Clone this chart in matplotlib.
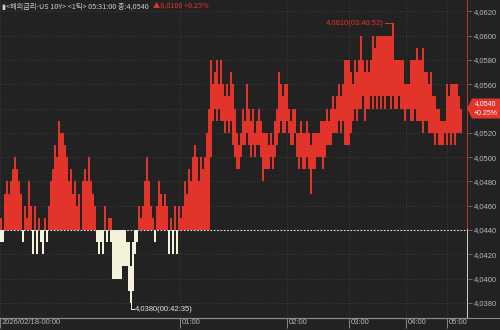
import matplotlib
matplotlib.use("Agg")
import matplotlib.pyplot as plt
import matplotlib.transforms as mtrans
from matplotlib.patches import Polygon
import numpy as np

# ---------------- data ----------------
baseline = 4.0440          # previous close
last_price = 4.0540
# per-column high / low of the tick prices
highs = [
    4.0450, 4.0440, 4.0470, 4.0480, 4.0470, 4.0480, 4.0490, 4.0500, 4.0490, 4.0480,
    4.0470, 4.0440, 4.0460, 4.0450, 4.0480, 4.0460, 4.0440, 4.0460, 4.0440, 4.0450,
    4.0440, 4.0440, 4.0450, 4.0440, 4.0460, 4.0480, 4.0490, 4.0510, 4.0500, 4.0530,
    4.0520, 4.0520, 4.0510, 4.0500, 4.0480, 4.0490, 4.0470, 4.0480, 4.0460, 4.0470,
    4.0440, 4.0480, 4.0490, 4.0480, 4.0500, 4.0480, 4.0470, 4.0460, 4.0440, 4.0440,
    4.0440, 4.0440, 4.0460, 4.0440, 4.0450, 4.0450, 4.0440, 4.0440, 4.0440, 4.0440,
    4.0440, 4.0440, 4.0440, 4.0430, 4.0430, 4.0410, 4.0430, 4.0440, 4.0440, 4.0460,
    4.0450, 4.0460, 4.0480, 4.0500, 4.0480, 4.0460, 4.0450, 4.0440, 4.0460, 4.0480,
    4.0470, 4.0460, 4.0470, 4.0460, 4.0440, 4.0450, 4.0440, 4.0460, 4.0440, 4.0460,
    4.0450, 4.0460, 4.0480, 4.0470, 4.0490, 4.0480, 4.0500, 4.0510, 4.0500, 4.0480,
    4.0500, 4.0490, 4.0500, 4.0520, 4.0540, 4.0580, 4.0560, 4.0570, 4.0580, 4.0560,
    4.0580, 4.0560, 4.0550, 4.0560, 4.0550, 4.0570, 4.0560, 4.0540, 4.0520, 4.0510,
    4.0520, 4.0540, 4.0530, 4.0560, 4.0540, 4.0530, 4.0540, 4.0520, 4.0530, 4.0540,
    4.0530, 4.0520, 4.0520, 4.0520, 4.0510, 4.0520, 4.0510, 4.0530, 4.0540, 4.0570,
    4.0560, 4.0550, 4.0560, 4.0560, 4.0540, 4.0530, 4.0540, 4.0540, 4.0520, 4.0520,
    4.0530, 4.0520, 4.0520, 4.0530, 4.0520, 4.0510, 4.0520, 4.0520, 4.0520, 4.0520,
    4.0530, 4.0530, 4.0530, 4.0540, 4.0530, 4.0540, 4.0550, 4.0540, 4.0550, 4.0560,
    4.0550, 4.0560, 4.0580, 4.0580, 4.0580, 4.0570, 4.0560, 4.0580, 4.0570, 4.0580,
    4.0600, 4.0580, 4.0570, 4.0580, 4.0570, 4.0580, 4.0600, 4.0590, 4.0600, 4.0600,
    4.0600, 4.0600, 4.0600, 4.0600, 4.0600, 4.0600, 4.0610, 4.0580, 4.0580, 4.0580,
    4.0580, 4.0580, 4.0560, 4.0560, 4.0560, 4.0580, 4.0580, 4.0580, 4.0590, 4.0580,
    4.0580, 4.0590, 4.0570, 4.0570, 4.0560, 4.0570, 4.0550, 4.0550, 4.0540, 4.0540,
    4.0530, 4.0530, 4.0530, 4.0560, 4.0550, 4.0560, 4.0560, 4.0560, 4.0560, 4.0550,
    4.0540,
]
lows = [
    4.0430, 4.0430, 4.0440, 4.0440, 4.0440, 4.0440, 4.0440, 4.0440, 4.0440, 4.0440,
    4.0440, 4.0430, 4.0440, 4.0440, 4.0440, 4.0440, 4.0420, 4.0440, 4.0420, 4.0440,
    4.0430, 4.0420, 4.0440, 4.0430, 4.0440, 4.0440, 4.0440, 4.0440, 4.0440, 4.0440,
    4.0440, 4.0440, 4.0440, 4.0440, 4.0440, 4.0440, 4.0440, 4.0440, 4.0440, 4.0440,
    4.0440, 4.0440, 4.0440, 4.0440, 4.0440, 4.0440, 4.0440, 4.0440, 4.0430, 4.0420,
    4.0430, 4.0420, 4.0440, 4.0430, 4.0440, 4.0430, 4.0400, 4.0400, 4.0400, 4.0400,
    4.0400, 4.0410, 4.0410, 4.0410, 4.0390, 4.0380, 4.0390, 4.0420, 4.0430, 4.0440,
    4.0440, 4.0440, 4.0440, 4.0440, 4.0440, 4.0440, 4.0440, 4.0430, 4.0440, 4.0440,
    4.0440, 4.0440, 4.0440, 4.0440, 4.0420, 4.0440, 4.0420, 4.0440, 4.0420, 4.0440,
    4.0440, 4.0440, 4.0440, 4.0440, 4.0440, 4.0440, 4.0440, 4.0440, 4.0440, 4.0440,
    4.0440, 4.0440, 4.0440, 4.0440, 4.0440, 4.0500, 4.0530, 4.0540, 4.0530, 4.0540,
    4.0530, 4.0530, 4.0520, 4.0530, 4.0520, 4.0530, 4.0510, 4.0500, 4.0490, 4.0490,
    4.0500, 4.0510, 4.0510, 4.0520, 4.0510, 4.0500, 4.0510, 4.0500, 4.0510, 4.0510,
    4.0500, 4.0480, 4.0490, 4.0490, 4.0490, 4.0500, 4.0490, 4.0500, 4.0510, 4.0520,
    4.0530, 4.0520, 4.0520, 4.0530, 4.0520, 4.0510, 4.0510, 4.0520, 4.0500, 4.0490,
    4.0500, 4.0490, 4.0490, 4.0500, 4.0490, 4.0470, 4.0490, 4.0490, 4.0500, 4.0500,
    4.0500, 4.0490, 4.0500, 4.0510, 4.0510, 4.0510, 4.0520, 4.0520, 4.0520, 4.0530,
    4.0520, 4.0530, 4.0510, 4.0510, 4.0510, 4.0520, 4.0530, 4.0540, 4.0530, 4.0540,
    4.0540, 4.0550, 4.0530, 4.0540, 4.0540, 4.0550, 4.0540, 4.0550, 4.0540, 4.0550,
    4.0540, 4.0550, 4.0540, 4.0550, 4.0550, 4.0540, 4.0550, 4.0540, 4.0540, 4.0550,
    4.0540, 4.0540, 4.0530, 4.0540, 4.0540, 4.0530, 4.0530, 4.0540, 4.0530, 4.0530,
    4.0530, 4.0520, 4.0530, 4.0530, 4.0520, 4.0520, 4.0520, 4.0510, 4.0520, 4.0510,
    4.0510, 4.0510, 4.0520, 4.0510, 4.0520, 4.0510, 4.0520, 4.0510, 4.0520, 4.0520,
    4.0520,
]
time_labels = ["2026/02/18-00:00", "01:00", "02:00", "03:00", "04:00", "05:00"]
time_tick_idx = [0, 90, 143.5, 174.5, 203, 223.5]
y_ticks = [4.0380, 4.0400, 4.0420, 4.0440, 4.0460, 4.0480, 4.0500,
           4.0520, 4.0540, 4.0560, 4.0580, 4.0600, 4.0620]
title_main = "▮<해외금리-US 10Y> <1틱> 05:31:00 종:4,0540"
title_chg = "▲0,0100 +0.25%"
max_label = "4,0610(03:40:52)"
min_label = "4,0380(00:42:35)"
last_lines = ["4,0540", "+0.25%"]

# ---------------- style ----------------
BG = "#222222"
RED = "#e2342b"
CREAM = "#f5f2dc"
GRID = "#3d3d3d"
TXT = "#b8b8b8"
KFONT = ["Noto Sans CJK KR", "DejaVu Sans"]
NFONT = "Liberation Sans"

W, H = 500, 330
fig = plt.figure(figsize=(W / 100, H / 100), dpi=100, facecolor=BG)
ax = fig.add_axes([0, 12 / H, 468 / W, 318 / H])
ax.set_facecolor(BG)
ax.set_xlim(0, 234)
ax.set_ylim(4.03676, 4.06293)

hi = np.array(highs)
lo = np.array(lows)
idx = np.arange(len(hi))
r_top = np.where(hi > baseline, hi, baseline)
r_bot = np.where(lo > baseline, lo, baseline)
ax.bar(idx, r_top - r_bot, bottom=r_bot, width=1.0, align="edge",
       color=RED, linewidth=0, zorder=3)
c_top = np.where(hi < baseline, hi, baseline)
c_bot = np.where(lo < baseline, lo, baseline)
ax.bar(idx, c_top - c_bot, bottom=c_bot, width=1.0, align="edge",
       color=CREAM, linewidth=0, zorder=3)

# grid
ax.set_yticks(y_ticks)
ax.set_xticks(time_tick_idx)
ax.grid(True, color=GRID, linestyle=(0, (1, 2)), linewidth=0.7, zorder=0)
ax.axhline(baseline, color="#dddddd", linestyle=(0, (1.5, 1.5)),
           linewidth=0.8, zorder=4)

for s in ["left", "top", "right"]:
    ax.spines[s].set_visible(False)
ax.spines["bottom"].set_color("#8a8a8a")
ax.spines["bottom"].set_linewidth(0.8)

ax.yaxis.tick_right()
# the label at the last price is covered by the price box
ylabels = ["" if abs(v - last_price) < 1e-9 else f"{v:.4f}".replace(".", ",")
           for v in y_ticks]
ax.set_yticklabels(ylabels, fontfamily=NFONT)
ax.tick_params(axis="y", colors="#777777", labelcolor=TXT, labelsize=5.5,
               length=3, width=0.6, pad=1)
ax.set_xticklabels([])
ax.tick_params(axis="x", colors="#999999", length=7, width=0.6,
               direction="out")
off = mtrans.ScaledTranslation(1.5 / 100, -0.5 / 100, fig.dpi_scale_trans)
for xt, lab in zip(time_tick_idx, time_labels):
    ax.text(xt, 0, lab, transform=ax.get_xaxis_transform() + off,
            ha="left", va="top", fontsize=5.5, color=TXT, family=NFONT,
            clip_on=False)

# colored right border
ax.plot([1, 1], [baseline, 1e3], transform=ax.get_yaxis_transform(),
        color=RED, linewidth=1.2, clip_on=True, zorder=5)
ax.plot([1, 1], [0, baseline], transform=ax.get_yaxis_transform(),
        color=CREAM, linewidth=1.2, clip_on=True, zorder=5)
fig.add_artist(plt.Line2D([0, 1], [12 / H, 12 / H], color="#8a8a8a",
                          linewidth=0.8, transform=fig.transFigure))

# max / min annotations
imax = int(np.argmax(hi))
imin = int(np.argmin(lo))
ax.plot([imax - 3.5, imax + 0.5, imax + 0.5],
        [hi[imax], hi[imax], hi[imax] - 0.0008], color=RED,
        linewidth=0.7, zorder=5)
ax.text(imax - 4, hi[imax], max_label, color=RED, fontsize=5.5, ha="right",
        va="center", family=NFONT, zorder=6)
y_min_txt = lo[imin] - 0.0005
ax.plot([imin + 0.5, imin + 0.5, imin + 2], [lo[imin], y_min_txt, y_min_txt],
        color=CREAM, linewidth=0.7, zorder=5, clip_on=False)
ax.text(imin + 2.3, y_min_txt, min_label, color="#e6e6e6", fontsize=5.5,
        ha="left", va="center", family=NFONT, zorder=6)

# last price box (pixel geometry on the figure)
ypix = ax.transData.transform((0, last_price))[1]
x0 = 468
poly = Polygon([(x0 - 1, ypix), (x0 + 4, ypix + 10), (W, ypix + 10),
                (W, ypix - 10), (x0 + 4, ypix - 10)],
               closed=True, transform=None, fc=RED, ec="none", zorder=7)
fig.add_artist(poly)
fig.text(486 / W, (ypix + 5) / H, last_lines[0], color="white",
         fontsize=5, ha="center", va="center", family=NFONT, zorder=8)
fig.text(486 / W, (ypix - 5) / H, last_lines[1], color="white",
         fontsize=5, ha="center", va="center", family=NFONT, zorder=8)

# title
t1 = fig.text(2 / W, 1 - 7 / H, title_main, color="#d0d0d0", fontsize=5.2,
              ha="left", va="center", family=KFONT)
fig.canvas.draw()
bb = t1.get_window_extent(fig.canvas.get_renderer())
fig.text(bb.x1 / W + 4 / W, 1 - 7 / H, title_chg, color=RED, fontsize=5.2,
         ha="left", va="center", family=KFONT)

fig.savefig("out.png", dpi=100, facecolor=BG)
